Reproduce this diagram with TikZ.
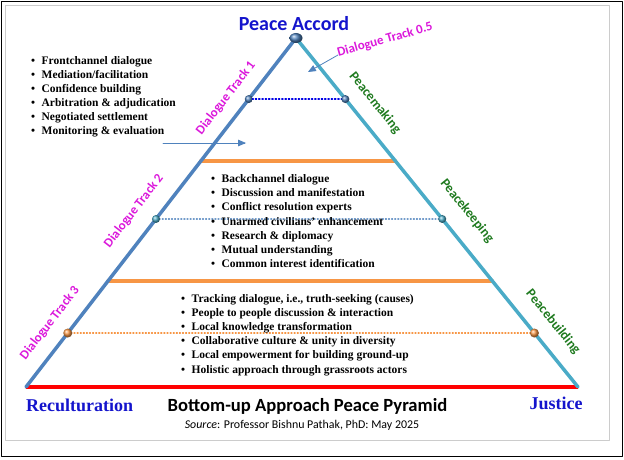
\documentclass[tikz,border=0pt]{standalone}
\usepackage{fontspec}
\setmainfont{Liberation Serif}
\newfontfamily\calib{Carlito}
\usepackage{tikz}
\usetikzlibrary{calc}
\usetikzlibrary{arrows}
\definecolor{ffqqqq}{rgb}{1.,0.,0.}
\definecolor{qqqqcc}{rgb}{0.08,0.08,0.8}
\definecolor{ccqqcc}{rgb}{0.86,0.1,0.86}
\definecolor{qqttqq}{rgb}{0.12,0.48,0.12}
\definecolor{ududbd}{rgb}{0.31,0.51,0.74}
\definecolor{ttaacc}{rgb}{0.29,0.67,0.78}
\definecolor{ffvvtt}{rgb}{0.97,0.59,0.27}
\definecolor{qqqqff}{rgb}{0.,0.,0.9}
\definecolor{cccccc}{rgb}{0.8,0.8,0.8}
\newcommand\bitem[1]{\makebox[10.5pt][l]{\textbullet}#1}
\tikzstyle{every node}=[inner sep=0pt]

\begin{document}
\begin{tikzpicture}[line cap=round,line join=round,>=triangle 45,x=1pt,y=-1pt,
    track/.style={font=\calib\bfseries\fontsize{13}{15}\selectfont,color=ccqqcc},
    phase/.style={font=\calib\bfseries\fontsize{13.5}{15}\selectfont,color=qqttqq},
    item/.style={anchor=base west,font=\bfseries\fontsize{11.5}{14}\selectfont},
    knob/.style={shading=ball,ball color=#1}]
    \useasboundingbox (0,0) rectangle (624,460);
    % frames
    \coordinate (f1) at (1,1);
    \coordinate (f2) at (622,456);
    \coordinate (g1) at (5,5);
    \coordinate (g2) at (609,440);
    \draw [line width=0.8pt] (f1) rectangle (f2);
    \draw [line width=0.8pt,color=cccccc] (g1) rectangle (g2);
    % pyramid
    \coordinate (A) at (296,38);
    \coordinate (L) at (26,387);
    \coordinate (R) at (578,387);
    \coordinate (o1l) at ($(L)!0.6476!(A)$);
    \coordinate (o1r) at ($(R)!0.6476!(A)$);
    \coordinate (o2l) at ($(L)!0.3037!(A)$);
    \coordinate (o2r) at ($(R)!0.3037!(A)$);
    \coordinate (d1l) at ($(L)!0.825!(A)$);
    \coordinate (d1r) at ($(R)!0.825!(A)$);
    \coordinate (d2l) at ($(L)!0.4814!(A)$);
    \coordinate (d2r) at ($(R)!0.4814!(A)$);
    \coordinate (d3l) at ($(L)!0.1547!(A)$);
    \coordinate (d3r) at ($(R)!0.1547!(A)$);
    \draw [line width=3.5pt,color=ffvvtt] (o1l) -- (o1r);
    \draw [line width=3.5pt,color=ffvvtt] (o2l) -- (o2r);
    \draw [line width=1.3pt,dotted,color=qqqqff] (d1l) -- (d1r);
    \draw [line width=1.1pt,dotted,color=ududbd!80] (d2l) -- (d2r);
    \draw [line width=1.1pt,dotted,color=ffvvtt] (d3l) -- (d3r);
    \draw [line width=3.5pt,color=ffqqqq,line cap=butt] (L) -- (R);
    \draw [line width=3.5pt,color=ududbd] (L) -- (A);
    \draw [line width=3.5pt,color=ttaacc] (A) -- (R);
    \shade [knob=ududbd] (A) ellipse (6.5 and 5);
    \shade [knob=ududbd] (d1l) circle (4);
    \shade [knob=ududbd] (d1r) circle (4);
    \shade [knob=ttaacc] (d2l) circle (4);
    \shade [knob=ttaacc] (d2r) circle (4);
    \shade [knob=ffvvtt] (d3l) circle (4.5);
    \shade [knob=ffvvtt] (d3r) circle (4.5);
    % arrows
    \coordinate (a1) at (163,143);
    \coordinate (a2) at (246,143);
    \coordinate (b1) at (338,55);
    \coordinate (b2) at (308,72);
    \draw [->,line width=0.8pt,color=ududbd] (a1) -- (a2);
    \draw [->,line width=0.8pt,color=ududbd] (b1) -- (b2);
    % labels
    \node [anchor=base,color=qqqqcc,font=\calib\bfseries\fontsize{20}{22}\selectfont] (top) at (294,31) {Peace Accord};
    \node [track,rotate=15.6] (t05) at (385,40) {Dialogue Track 0.5};
    \node [track,rotate=52.3] (t1) at (226,98) {Dialogue Track 1};
    \node [track,rotate=52.3] (t2) at (134,211) {Dialogue Track 2};
    \node [track,rotate=52.3] (t3) at (50,323) {Dialogue Track 3};
    \node [phase,rotate=-51] (pm) at (375,103) {Peacemaking};
    \node [phase,rotate=-51] (pk) at (467,211) {Peacekeeping};
    \node [phase,rotate=-51] (pb) at (553,322) {Peacebuilding};
    \node [anchor=base west,color=qqqqcc,font=\bfseries\fontsize{18}{20}\selectfont] (rec) at (26,411) {Reculturation};
    \node [anchor=base,color=qqqqcc,font=\bfseries\fontsize{18}{20}\selectfont] (jus) at (556,409) {Justice};
    \node [anchor=base,font=\calib\bfseries\fontsize{18.6}{20}\selectfont] (title) at (307.5,411.5) {Bottom-up Approach Peace Pyramid};
    \node [anchor=base,font=\calib\fontsize{11.9}{13}\selectfont] (src) at (302,428) {\textit{Source}: Professor Bishnu Pathak, PhD: May 2025};
    % lists
    \foreach \t [count=\i] in {Frontchannel dialogue, Mediation/facilitation, Confidence building, Arbitration \& adjudication, Negotiated settlement, Monitoring \& evaluation}
        \node [item] (f\i) at (31,{64.5+14*(\i-1)}) {\bitem{\t}};
    \foreach \t [count=\i] in {Backchannel dialogue, Discussion and manifestation, Conflict resolution experts, Unarmed civilians’ enhancement, Research \& diplomacy, Mutual understanding, Common interest identification}
        \node [item] (k\i) at (211,{182.5+14.2*(\i-1)}) {\bitem{\t}};
    \foreach \t [count=\i] in {{Tracking dialogue, i.e., truth-seeking (causes)}, People to people discussion \& interaction, Local knowledge transformation, Collaborative culture \& unity in diversity, Local empowerment for building ground-up, Holistic approach through grassroots actors}
        \node [item] (b\i) at (181,{302.5+14.1*(\i-1)}) {\bitem{\t}};
\end{tikzpicture}
\end{document}
